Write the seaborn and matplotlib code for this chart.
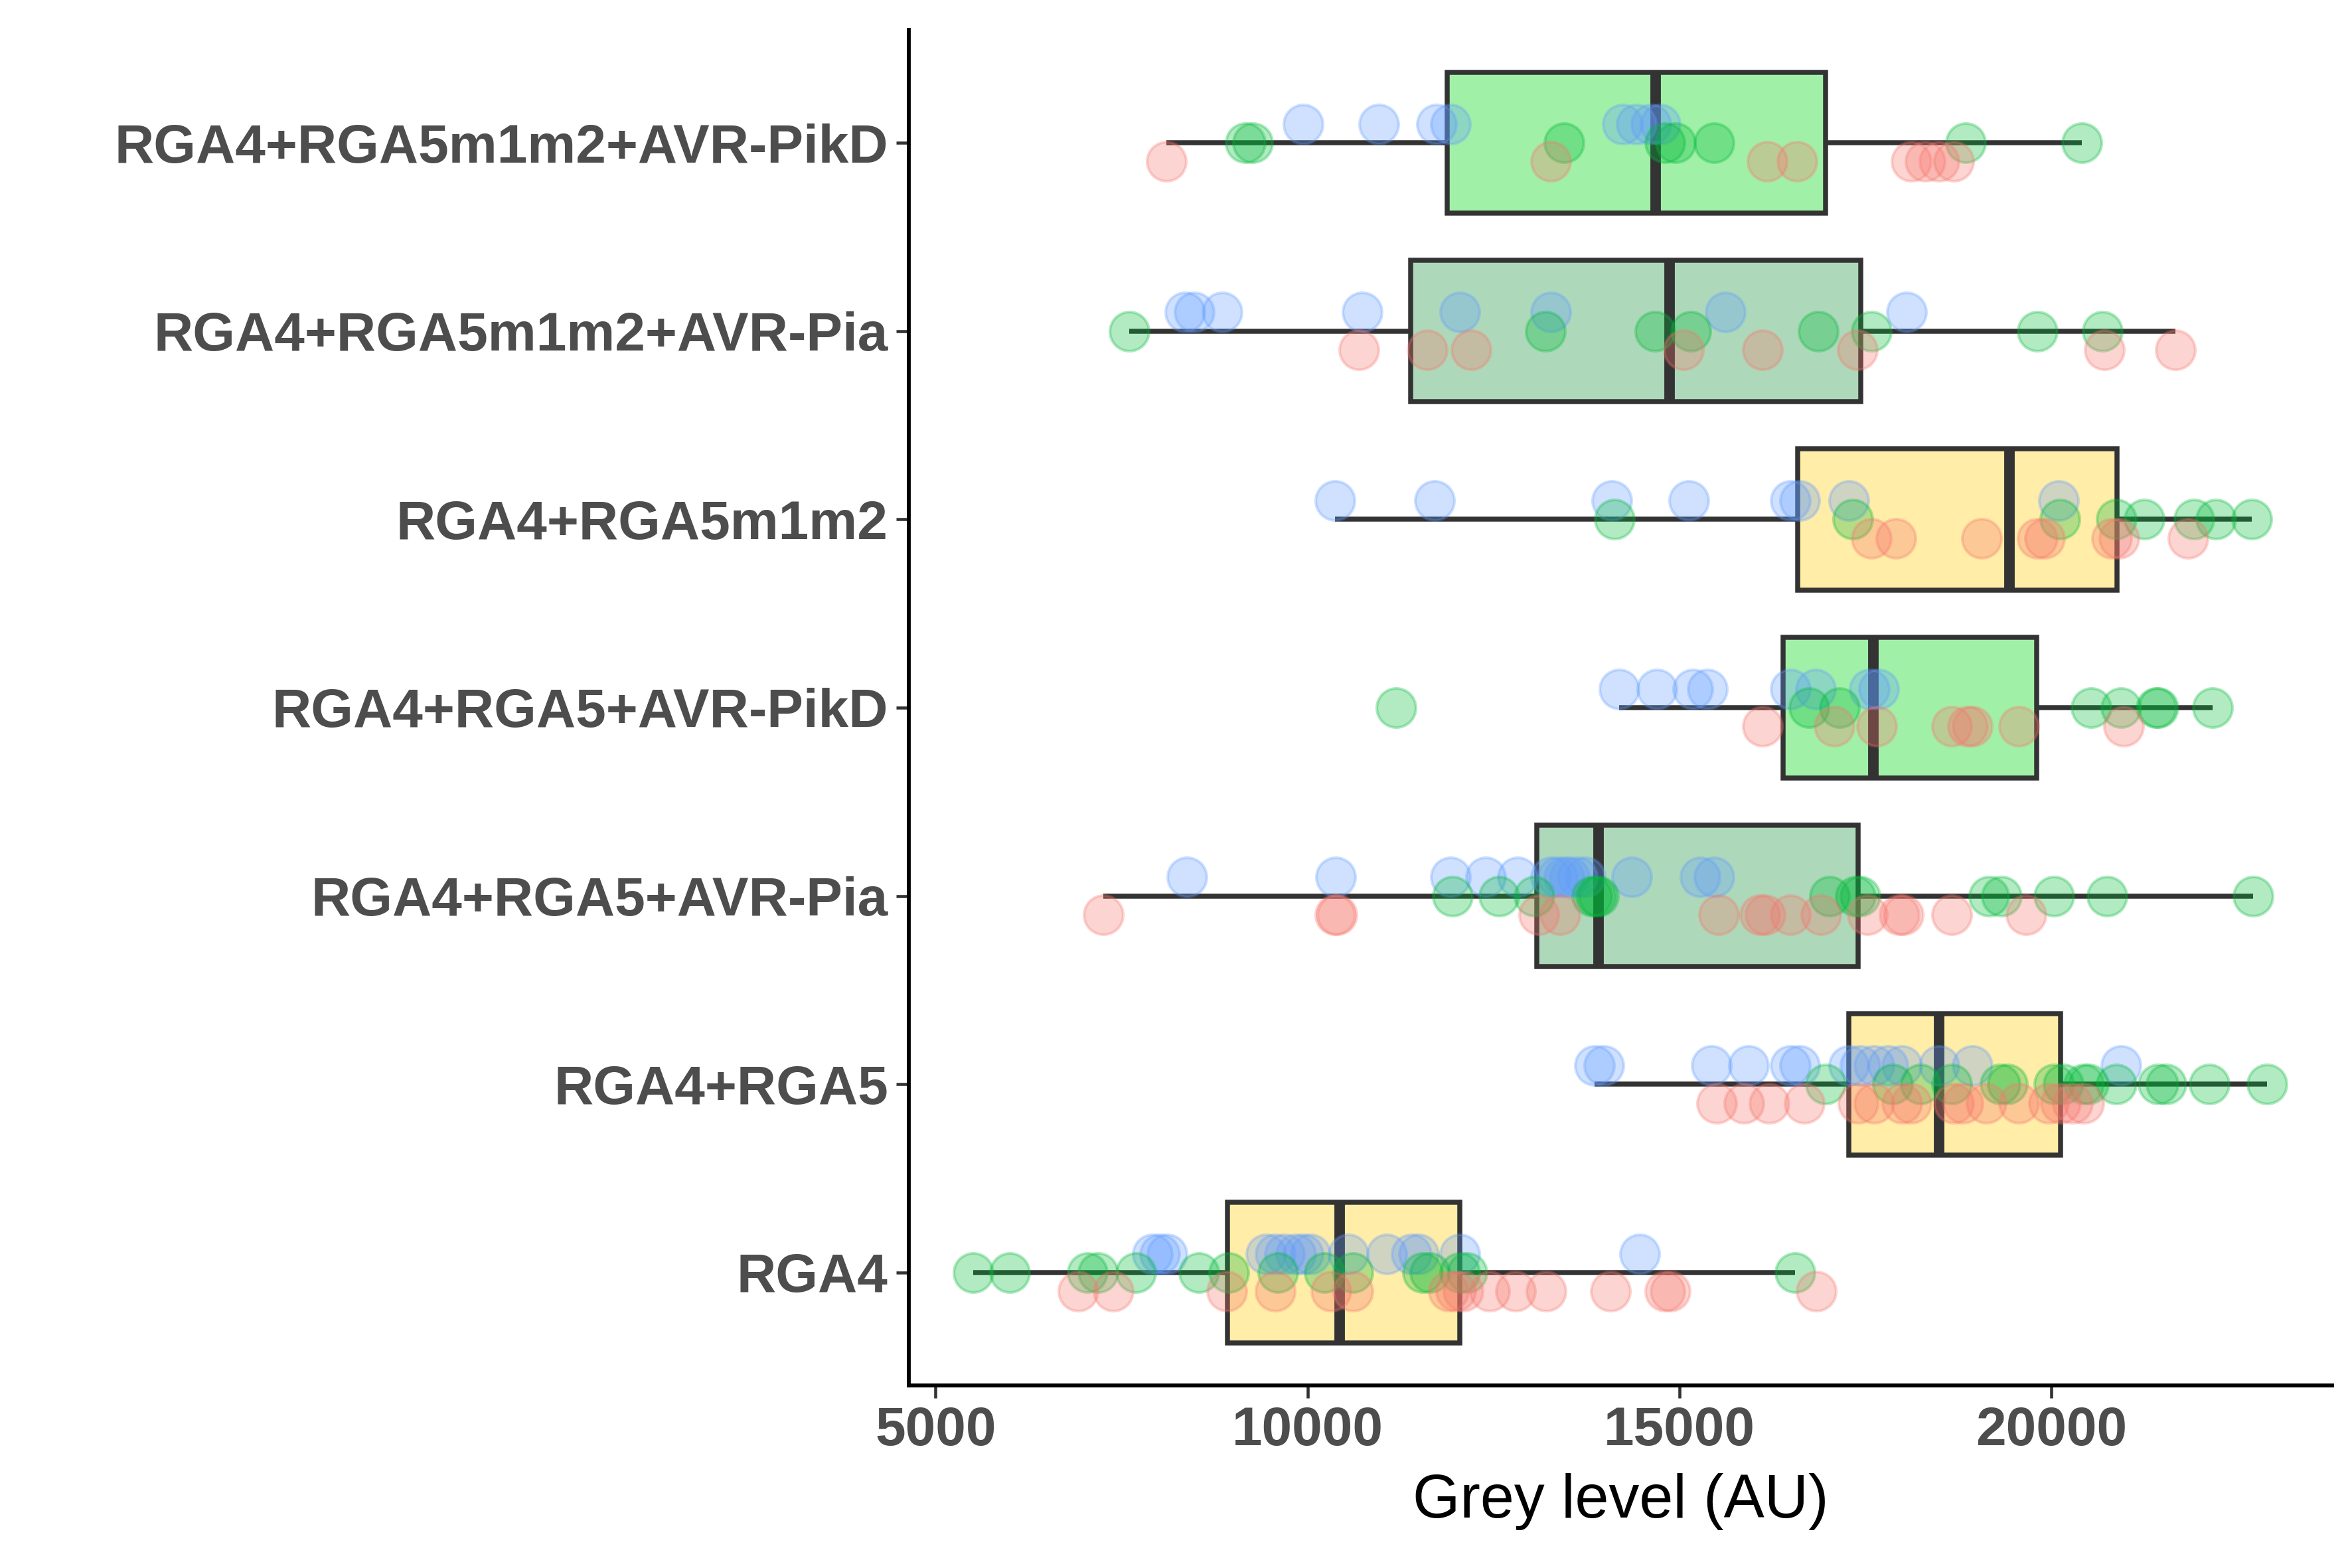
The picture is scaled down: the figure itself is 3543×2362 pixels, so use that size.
import numpy as np
import pandas as pd
import matplotlib
matplotlib.use("Agg")
import matplotlib.pyplot as plt
import seaborn as sns

# ---------------- data ----------------
categories = [
    "RGA4+RGA5m1m2+AVR-PikD",
    "RGA4+RGA5m1m2+AVR-Pia",
    "RGA4+RGA5m1m2",
    "RGA4+RGA5+AVR-PikD",
    "RGA4+RGA5+AVR-Pia",
    "RGA4+RGA5",
    "RGA4",
]
box_colors = ["#A1F0A8", "#ADD9BA", "#FFEDA8", "#A1F0A8", "#ADD9BA", "#FFEDA8", "#FFEDA8"]

replicates = ["rep1", "rep2", "rep3"]
rep_colors = ["#619CFF", "#00BA38", "#F8766D"]

# RGA4+RGA5m1m2+AVR-PikD
pikd_m1m2_rep1 = [9943, 10958, 11734, 11922, 14239, 14427, 14615, 14740]
pikd_m1m2_rep2 = [9167, 9267, 13450, 14803, 14953, 15466, 18848, 20413]
pikd_m1m2_rep3 = [8102, 13275, 16180, 16581, 18122, 18309, 18497, 18685]
# RGA4+RGA5m1m2+AVR-Pia
pia_m1m2_rep1 = [8353, 8478, 8854, 10732, 12047, 13275, 15617, 18059]
pia_m1m2_rep2 = [7601, 13200, 14677, 15153, 16869, 17583, 19812, 20689]
pia_m1m2_rep3 = [10695, 11609, 12198, 15053, 16118, 17395, 20714, 21666]
# RGA4+RGA5m1m2
m1m2_rep1 = [10369, 11709, 14089, 15128, 16493, 16619, 17282, 20100]
m1m2_rep2 = [14126, 17333, 20113, 20877, 21253, 21916, 22217, 22693]
m1m2_rep3 = [17583, 17909, 19061, 19812, 19912, 20814, 20914, 21841]
# RGA4+RGA5+AVR-PikD
pikd_rep1 = [14189, 14702, 15178, 15379, 16493, 16832, 17558, 17683]
pikd_rep2 = [11196, 16744, 17157, 20539, 20939, 21415, 21440, 22167]
pikd_rep3 = [16118, 17082, 17658, 18660, 18873, 18936, 19562, 20977]
# RGA4+RGA5+AVR-Pia
pia_rep1 = [8378, 10382, 11922, 12398, 12824, 13275, 13362, 13450, 13525, 13625,
            13738, 14364, 15279, 15466]
pia_rep2 = [11947, 12573, 13049, 13826, 13876, 13913, 17019, 17370, 17433, 19161,
            19336, 20038, 20752, 22717]
pia_rep3 = [7251, 10369, 10394, 13112, 13400, 15529, 16080, 16155, 16493, 16907,
            17533, 17959, 18009, 18660, 19662]
# RGA4+RGA5
rga5_rep1 = [13863, 13989, 15429, 15930, 16493, 16619, 17282, 17433, 17621, 17808,
             17996, 18497, 18936, 20939]
rga5_rep2 = [16969, 17871, 18247, 18660, 19311, 19412, 20038, 20163, 20438, 20501,
             20877, 21440, 21541, 22129, 22906]
rga5_rep3 = [15504, 15867, 16205, 16681, 17408, 17621, 17996, 18122, 18685, 18810,
             19123, 19562, 19963, 20125, 20288, 20438]
# RGA4
rga4_rep1 = [7914, 8015, 8115, 9442, 9568, 9693, 9843, 9943, 10044, 10545, 11071,
             11396, 11496, 12047, 14465]
rga4_rep2 = [5510, 5998, 7038, 7188, 7689, 8541, 8941, 9605, 10231, 10607, 11546,
             11647, 12047, 12148, 16556]
rga4_rep3 = [6913, 7388, 8916, 9568, 10319, 10607, 11897, 11997, 12097, 12448, 12799,
             13212, 14076, 14803, 14878, 16844]

groups = [
    (pikd_m1m2_rep1, pikd_m1m2_rep2, pikd_m1m2_rep3),
    (pia_m1m2_rep1, pia_m1m2_rep2, pia_m1m2_rep3),
    (m1m2_rep1, m1m2_rep2, m1m2_rep3),
    (pikd_rep1, pikd_rep2, pikd_rep3),
    (pia_rep1, pia_rep2, pia_rep3),
    (rga5_rep1, rga5_rep2, rga5_rep3),
    (rga4_rep1, rga4_rep2, rga4_rep3),
]

rows = []
for cat, reps in zip(categories, groups):
    for rep, vals in zip(replicates, reps):
        for v in vals:
            rows.append((cat, rep, v))
df = pd.DataFrame(rows, columns=["condition", "replicate", "grey"])

rep_offset = {"rep1": -0.1, "rep2": 0.0, "rep3": 0.1}
cat_index = {c: i for i, c in enumerate(categories)}
df["ypos"] = df["condition"].map(cat_index) + df["replicate"].map(rep_offset)

# ---------------- plot ----------------
plt.rcParams["font.family"] = ["Liberation Sans", "DejaVu Sans"]

fig = plt.figure(figsize=(3543 / 300, 2362 / 300), dpi=300)
ax = fig.add_axes([0.3864, 0.1164, 0.6051, 0.8646])

sns.boxplot(
    data=df, x="grey", y="condition", order=categories,
    hue="condition", hue_order=categories,
    palette=dict(zip(categories, box_colors)), legend=False,
    saturation=1, width=0.75, showfliers=False, showcaps=False,
    linewidth=1.8, linecolor="#333333",
    medianprops={"linewidth": 3.8, "color": "#333333"},
    ax=ax,
)

for rep, col in zip(replicates, rep_colors):
    sub = df[df["replicate"] == rep]
    sns.scatterplot(
        data=sub, x="grey", y="ypos", color=col, edgecolor=col,
        alpha=0.3, s=200, linewidth=1.0, ax=ax, zorder=3, legend=False,
    )

lo, hi = df["grey"].min(), df["grey"].max()
rng = hi - lo
ax.set_xlim(lo - 0.05 * rng, hi + 0.05 * rng)
ax.set_ylim(len(categories) - 0.4, -0.6)

ax.set_yticks(range(len(categories)))
ax.set_yticklabels(categories)
ax.set_xticks([5000, 10000, 15000, 20000])
ax.set_xticklabels(["5000", "10000", "15000", "20000"])

for side in ["top", "right"]:
    ax.spines[side].set_visible(False)
for side in ["left", "bottom"]:
    ax.spines[side].set_linewidth(1.4)
    ax.spines[side].set_color("black")

ax.tick_params(axis="both", direction="out", length=4.5, width=1.1,
               color="#333333", labelcolor="#4D4D4D", labelsize=19.7, pad=3)
for t in ax.get_xticklabels() + ax.get_yticklabels():
    t.set_fontweight("bold")

ax.set_ylabel("")
ax.set_xlabel("Grey level (AU)", fontsize=22, color="black", labelpad=6)

fig.savefig("out.png", dpi=300)
